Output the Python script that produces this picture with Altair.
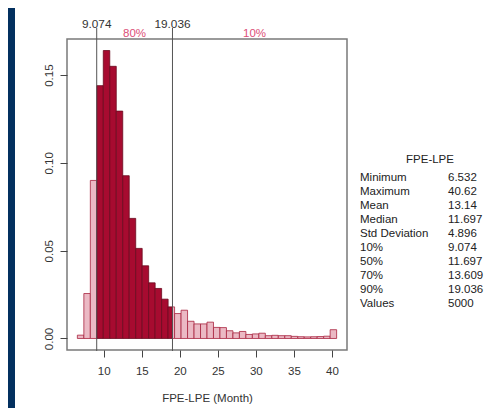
import altair as alt
import pandas as pd

# ---- data ----
X_MIN = 6.532
X_MAX = 40.62
N_BINS = 40
DENSITY = [0.0019, 0.0256, 0.0900, 0.1440, 0.1640, 0.1550, 0.1295, 0.0927,
           0.0684, 0.0513, 0.0414, 0.0317, 0.0285, 0.0224, 0.0180, 0.0142,
           0.0161, 0.0098, 0.0083, 0.0083, 0.0093, 0.0063, 0.0062, 0.0044,
           0.0032, 0.0040, 0.0023, 0.0026, 0.0030, 0.0016, 0.0018, 0.0016,
           0.0016, 0.0012, 0.0010, 0.0009, 0.0010, 0.0011, 0.0013, 0.0050]
P_LOW = 9.074
P_HIGH = 19.036
PCT_TEXT = ["80%", "10%"]
X_TICKS = [10, 15, 20, 25, 30, 35, 40]
Y_TICKS = [0.0, 0.05, 0.10, 0.15]
TABLE_TITLE = "FPE-LPE"
STAT_NAMES = ["Minimum", "Maximum", "Mean", "Median", "Std Deviation",
              "10%", "50%", "70%", "90%", "Values"]
STAT_VALUES = ["6.532", "40.62", "13.14", "11.697", "4.896",
               "9.074", "11.697", "13.609", "19.036", "5000"]

# ---- build tables ----
bw = (X_MAX - X_MIN) / N_BINS
rows = []
for i, d in enumerate(DENSITY):
    a, b = X_MIN + i * bw, X_MIN + (i + 1) * bw
    cuts = [a] + [c for c in (P_LOW, P_HIGH) if a + 0.05 < c < b - 0.05] + [b]
    for s, e in zip(cuts[:-1], cuts[1:]):
        mid = (s + e) / 2
        kind = "solid" if P_LOW <= mid <= P_HIGH else "hatch"
        rows.append({"x0": s, "x1": e, "d": d, "kind": kind})
bars = pd.DataFrame(rows)

lines = pd.DataFrame({"x0": [P_LOW, P_HIGH], "lab": [f"{P_LOW:.3f}", f"{P_HIGH:.3f}"]})
pct = pd.DataFrame({"x0": [(P_LOW + P_HIGH) / 2, (P_HIGH + X_MAX) / 2], "lab": PCT_TEXT})
table = pd.DataFrame({"row": list(range(len(STAT_NAMES))), "name": STAT_NAMES, "val": STAT_VALUES})

pad = 0.04 * (X_MAX - X_MIN)
xdom = [X_MIN - pad, X_MAX + pad]
ymax = max(DENSITY)
ydom = [-0.04 * ymax, ymax * 1.04]

FONT = "Liberation Sans"
W, H = 280, 311

xs = alt.Scale(domain=xdom, nice=False, zero=False)
ys = alt.Scale(domain=ydom, nice=False, zero=False)

strip = alt.Chart(pd.DataFrame({"a": [0]})).mark_rect(color="#03305f").encode(
    x=alt.value(-59), x2=alt.value(-52), y=alt.value(-40), y2=alt.value(380))

rects = alt.Chart(bars).mark_rect(strokeWidth=0.8).encode(
    x=alt.X("x0:Q", scale=xs,
            axis=alt.Axis(values=X_TICKS, title="FPE-LPE (Month)", grid=False, domain=False,
                          tickSize=7, tickColor="#444", labelPadding=8, labelFont=FONT,
                          labelFontSize=11.5, labelColor="#333", titleFont=FONT,
                          titleFontSize=11.5, titleFontWeight="normal", titleColor="#333",
                          titlePadding=16, labelFlush=False)),
    x2="x1:Q",
    y=alt.Y("d:Q", scale=ys,
            axis=alt.Axis(values=Y_TICKS, format=".2f", title=None, grid=False, domain=False,
                          tickSize=7, tickColor="#444", labelAngle=-90, labelAlign="center",
                          labelBaseline="alphabetic", labelPadding=8, labelFont=FONT,
                          labelFontSize=11.5, labelColor="#333")),
    y2=alt.datum(0),
    fill=alt.Fill("kind:N", scale=alt.Scale(domain=["hatch", "solid"], range=["#ebb9c4", "#a70b30"]), legend=None),
    stroke=alt.Stroke("kind:N", scale=alt.Scale(domain=["hatch", "solid"], range=["#a8233f", "#6a0a1e"]), legend=None),
)

rules = alt.Chart(lines).mark_rule(color="#555555", strokeWidth=1).encode(
    x=alt.X("x0:Q", scale=xs), y=alt.value(-11), y2=alt.value(H + 1))

rule_labels = alt.Chart(lines).mark_text(font=FONT, fontSize=11.8, color="#333333",
                                         baseline="alphabetic", align="center").encode(
    x=alt.X("x0:Q", scale=xs), y=alt.value(-11), text="lab:N")

pct_labels = alt.Chart(pct).mark_text(font=FONT, fontSize=11.5, color="#dc4f78",
                                      baseline="alphabetic", align="center").encode(
    x=alt.X("x0:Q", scale=xs), y=alt.value(-2.5), text="lab:N")

hist = alt.layer(strip, rects, rules, rule_labels, pct_labels)

ty = alt.Scale(domain=[0, len(STAT_NAMES) - 1], range=[142, 142 + 14.03 * (len(STAT_NAMES) - 1)])

tab_title = alt.Chart(pd.DataFrame({"t": [TABLE_TITLE]})).mark_text(
    font=FONT, fontSize=11.5, color="#222", align="center", baseline="alphabetic").encode(
    x=alt.value(363), y=alt.value(123.5), text="t:N")

tab_names = alt.Chart(table).mark_text(font=FONT, fontSize=11.5, color="#222",
                                       align="left", baseline="alphabetic").encode(
    x=alt.value(293), y=alt.Y("row:Q", scale=ty, axis=None), text="name:N")

tab_vals = alt.Chart(table).mark_text(font=FONT, fontSize=11.5, color="#222",
                                      align="left", baseline="alphabetic").encode(
    x=alt.value(381), y=alt.Y("row:Q", scale=ty, axis=None), text="val:N")

chart = alt.layer(hist, tab_title, tab_names, tab_vals).resolve_scale(y="independent").properties(
    width=W, height=H,
    padding={"left": 59, "top": 31, "right": 137, "bottom": 58},
    autosize=alt.AutoSizeParams(type="none"),
    background="white",
).configure_view(stroke="#7a7a7a", strokeWidth=1.5)

chart.save("out.html", embed_options={"renderer": "svg", "actions": False})
